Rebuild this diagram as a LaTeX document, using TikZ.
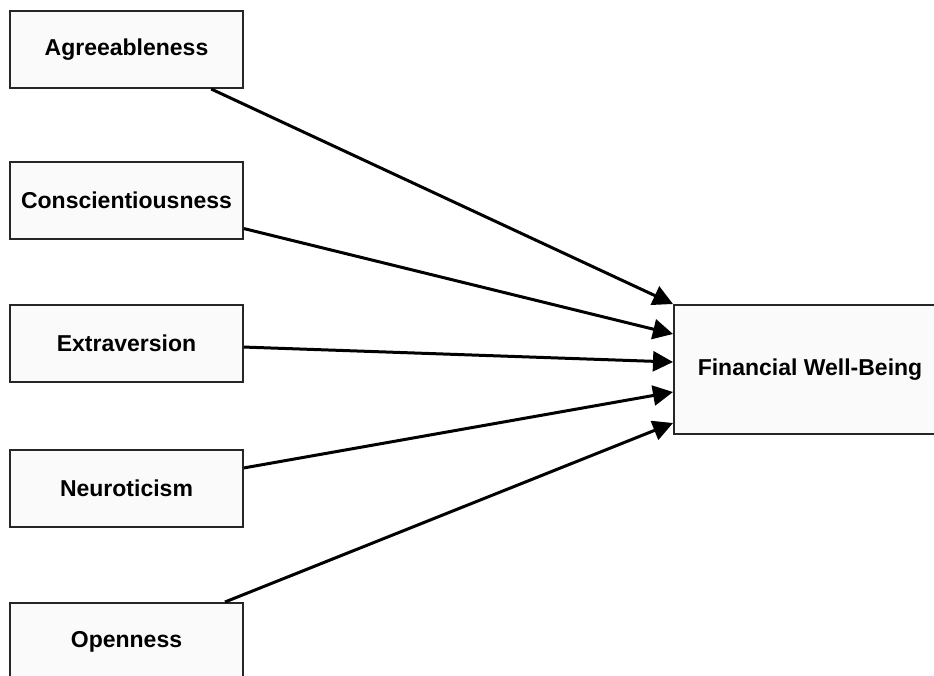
\documentclass[tikz,border=0pt]{standalone}
\usepackage{fontspec}
\setmainfont{Liberation Sans}
\usepackage{tikz}
\usetikzlibrary{arrows.meta, positioning}
\tikzstyle{trait} = [rectangle, minimum width=233pt, minimum height=77pt, text centered, draw=black!85, line width=2pt, fill=black!2, font=\fontsize{23}{27}\selectfont\bfseries]
\tikzstyle{outcome} = [trait, minimum width=272pt, minimum height=129pt]
\tikzstyle{arrow} = [line width=3pt, -{Triangle[length=20pt,width=20pt]}]

\begin{document}
\begin{tikzpicture}[x=1pt, y=-1pt]
  \useasboundingbox (0,0) rectangle (934,675);
  \node (agree) [trait] at (126.5,49.5) {Agreeableness};
  \node (consc) [trait] at (126.5,200) {Conscientiousness};
  \node (extra) [trait] at (126.5,343) {Extraversion};
  \node (neuro) [trait] at (126.5,488.5) {Neuroticism};
  \node (open) [trait] at (126.5,641.5) {Openness};
  \node (fwb) [outcome] at (810,369.5) {Financial Well-Being};

  \draw[arrow] (agree) -- (fwb.north west);
  \draw[arrow] (consc) -- ([yshift=-30pt]fwb.north west);
  \draw[arrow] (extra) -- ([yshift=-58pt]fwb.north west);
  \draw[arrow] (neuro) -- ([yshift=-88pt]fwb.north west);
  \draw[arrow] (open) -- ([yshift=-119pt]fwb.north west);
\end{tikzpicture}
\end{document}
